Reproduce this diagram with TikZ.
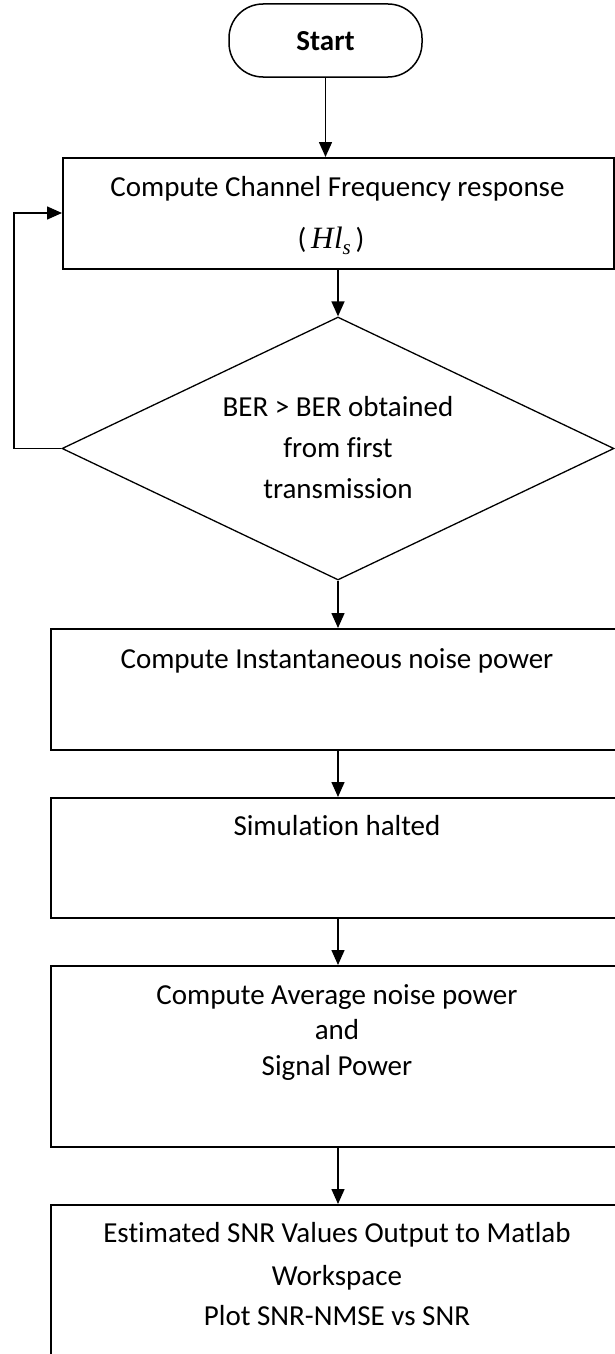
\documentclass[tikz,border=0pt]{standalone}
\usepackage{fontspec}
\setmainfont{Carlito}[Ligatures={NoCommon}]
\newfontfamily\tms{Liberation Serif}
\usetikzlibrary{shapes.geometric,arrows.meta}
\begin{document}
\begin{tikzpicture}[x=1pt,y=-1pt,
  box/.style={draw, line width=1.8pt, minimum width=574pt, inner sep=0pt, anchor=north west},
  txt/.style={anchor=base, inner sep=0pt, font=\fontsize{29}{34}\selectfont},
  arr/.style={line width=1.5pt, -{Triangle[width=13pt,length=15pt]}}]
\useasboundingbox (0,0) rectangle (615,1354);
\clip (0,0) rectangle (615,1354);
% Start
\node[draw, line width=1.5pt, rounded corners=34pt, minimum width=193pt, minimum height=73pt, inner sep=0pt] (start) at (325.5,40.5) {};
\node[txt, font=\fontsize{29}{34}\selectfont\bfseries] (startt) at (325.5,51) {Start};
% Box 1
\node[box, minimum width=551pt, minimum height=111pt] (b1) at (62,157) {};
\node[txt] (b1a) at (337.5,196) {Compute Channel Frequency response};
\node[txt] (b1b) at (331,248) {(\,{\tms\itshape\fontsize{31}{31}\selectfont H\kern0.5pt l}\raisebox{-6pt}{\tms\itshape\fontsize{21}{21}\selectfont s}\,)};
% Diamond
\node[draw, diamond, line width=1.3pt, minimum width=552pt, minimum height=263pt, inner sep=0pt] (dia) at (338,448.5) {};
\node[txt] (d1) at (338,416.5) {BER > BER obtained};
\node[txt] (d2) at (338,457) {from first};
\node[txt] (d3) at (338,498) {transmission};
% Box 2
\node[box, minimum height=121pt] (b2) at (50,628) {};
\node[txt] (b2a) at (337,668) {Compute Instantaneous noise power};
% Box 3
\node[box, minimum height=120pt] (b3) at (50,797) {};
\node[txt] (b3a) at (337,835) {Simulation halted};
% Box 4
\node[box, minimum height=181pt] (b4) at (50,965) {};
\node[txt] (b4a) at (337,1004) {Compute Average noise power};
\node[txt] (b4b) at (337,1039) {and};
\node[txt] (b4c) at (337,1075) {Signal Power};
% Box 5
\node[box, minimum height=190pt] (b5) at (50,1204) {};
\node[txt] (b5a) at (337,1242) {Estimated SNR Values Output to Matlab};
\node[txt] (b5b) at (337,1285) {Workspace};
\node[txt] (b5c) at (337,1325) {Plot SNR-NMSE vs SNR};
% Connectors
\coordinate (lp) at (14,213);
\draw[arr] (start.south) -- (start.south |- b1.north);
\draw[arr] (b1.south -| dia.north) -- (dia.north);
\draw[arr] (dia.south) -- (dia.south |- b2.north);
\draw[arr] (dia.south |- b2.south) -- (dia.south |- b3.north);
\draw[arr] (dia.south |- b3.south) -- (dia.south |- b4.north);
\draw[arr] (dia.south |- b4.south) -- (dia.south |- b5.north);
\draw[arr] (dia.west) -| (lp) -- (b1.west |- lp);
\end{tikzpicture}
\end{document}
